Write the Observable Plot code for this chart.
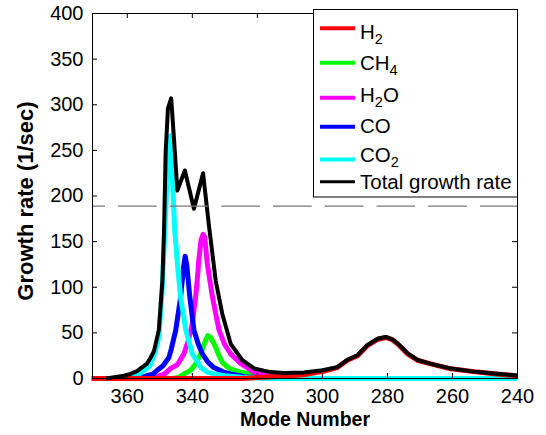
<!DOCTYPE html>
<html>
<head>
<meta charset="utf-8">
<script src="https://cdn.jsdelivr.net/npm/d3@7"></script>
<script src="https://cdn.jsdelivr.net/npm/@observablehq/plot@0.6"></script>
<style>
  body { margin: 0; background: #fff; }
  #wrap { position: relative; width: 546px; height: 435px; background: #fff; }
</style>
</head>
<body>
<div id="wrap"></div>
<script>
// ---------------- data ----------------
const xTicks = [360, 340, 320, 300, 280, 260, 240];
const yTicks = [0, 50, 100, 150, 200, 250, 300, 350, 400];
const xDomain = [370.7, 240];
const yDomain = [0, 400];
const threshold = 189;

const legendLabels = ["H_2", "CH_4", "H_2O", "CO", "CO_2", "Total growth rate"];
const xLabel = "Mode Number";
const yLabel = "Growth rate (1/sec)";

const h2Mode = [371, 325, 320, 315, 310, 305, 302, 299.5, 295.4, 292.3, 289.2, 286.2, 283, 280.5, 278.5, 276.9, 273.8, 270.8, 266.7, 260.5, 252.3, 245, 240];
const h2Rate = [0, 0, 1, 2, 3, 4.5, 6.5, 8, 12, 20, 25, 36, 43, 45, 42.5, 38, 27, 20, 16, 10.6, 7, 4.5, 3];

const ch4Mode = [346, 344, 342.6, 340.5, 339, 337.8, 336.9, 335.9, 335.2, 334.4, 333.6, 332.8, 331.8, 330.8, 329, 327.2, 325, 322.1, 318, 313, 308];
const ch4Rate = [0, 1.5, 5, 9, 16, 24, 32, 42, 47, 45, 40, 34, 25, 18, 12, 9, 7, 5, 2.5, 1, 0];

const h2oMode = [354, 350.8, 348.5, 346.7, 344.6, 342.6, 341.2, 340, 339, 338.5, 338, 337.3, 336.7, 336.2, 335.4, 333.8, 331.8, 330, 328.2, 325, 323.1, 321, 318, 314, 310, 305];
const h2oRate = [0, 2, 5, 11, 15, 27, 42, 60, 89, 107, 130, 152, 158, 155, 126, 89, 53, 37, 27, 16, 12, 7, 3.5, 1.5, 0.5, 0];

const coMode = [360, 354.9, 352, 350.8, 349, 347.2, 346.5, 345.1, 343.6, 342.7, 342.2, 341.7, 340.8, 339.5, 338.2, 336.9, 335.2, 333.4, 330.3, 328.2, 324, 320, 315, 310];
const coRate = [0, 2, 5, 9, 14, 23, 32, 53, 89, 122, 134, 124, 90, 53, 38, 27, 18, 12, 7, 5, 2, 1, 0.3, 0];

const co2Mode = [362, 358, 355.9, 353, 351.5, 350.3, 349.3, 348.3, 347.4, 346.7, 345.4, 344.6, 343.6, 342, 340, 338, 337.4, 335.4, 333.4, 330, 325, 320, 316, 240];
const co2Rate = [0, 2, 6, 14, 28, 45, 95, 175, 245, 266, 162, 126, 89, 53, 27, 16, 12, 7, 5, 3, 1.5, 0.5, 0, 0];

const totalMode = [366.5, 364, 361, 359, 357, 355.9, 354, 352.8, 351.8, 350.3, 349.2, 348.7, 348.2, 347.5, 346.5, 345.7, 344.6, 342.3, 339.5, 336.7, 334.9, 332.8, 330.8, 328.2, 324.6, 321, 318, 315.9, 311.8, 305.7, 300, 295.4, 292.3, 289.2, 286.2, 283, 280.5, 278.5, 276.9, 273.8, 270.8, 266.7, 260.5, 252.3, 241, 240];
const totalRate = [0, 1.5, 3, 5, 8, 11, 16, 23, 30, 53, 107, 162, 248, 296, 307, 266, 206, 228, 186, 225, 168, 107, 71, 38, 20, 11, 8.5, 7, 6, 6.5, 9, 12.5, 20.5, 25.5, 36.5, 43.5, 45.5, 43, 38.5, 27.5, 20.5, 16, 11, 7, 3.5, 3];

// ---------------- build ----------------
const rows = (modes, rates) => modes.map((m, i) => ({mode: m, rate: rates[i]}));
const colors = ["#ff0000", "#00ff00", "#ff00ff", "#0000ff", "#00ffff", "#000000"];
const FONT = "'Liberation Sans', Arial, Helvetica, sans-serif";

const W = 546, H = 435;
const mL = 92, mR = 29, mT = 13, mB = 57;
const innerW = W - mL - mR;
const innerH = H - mT - mB;
const tickLen = 5;

const lineOpts = (color, w) => ({x: "mode", y: "rate", stroke: color, strokeWidth: w, strokeLinejoin: "round", strokeLinecap: "butt"});

const chart = Plot.plot({
  width: W, height: H,
  marginLeft: mL, marginRight: mR, marginTop: mT, marginBottom: mB,
  style: {fontFamily: FONT, fontSize: "20px", color: "black", background: "white"},
  x: {domain: xDomain, ticks: xTicks},
  y: {domain: yDomain, ticks: yTicks},
  marks: [
    Plot.line(rows(ch4Mode, ch4Rate), lineOpts(colors[1], 5)),
    Plot.line(rows(h2oMode, h2oRate), lineOpts(colors[2], 5)),
    Plot.line(rows(coMode, coRate), lineOpts(colors[3], 5)),
    Plot.line(rows(co2Mode, co2Rate), lineOpts(colors[4], 5)),
    Plot.line(rows(h2Mode, h2Rate), lineOpts(colors[0], 5)),
    Plot.line(rows(totalMode, totalRate), lineOpts(colors[5], 4)),
    Plot.ruleY([threshold], {stroke: "#777", strokeWidth: 1.3, strokeDasharray: "38.7,13", strokeDashoffset: 25.7}),
    Plot.frame({stroke: "black", strokeWidth: 1}),
    Plot.tickX(xTicks, {x: d => d, insetTop: innerH - tickLen, stroke: "black"}),
    Plot.tickX(xTicks, {x: d => d, insetBottom: innerH - tickLen, stroke: "black"}),
    Plot.tickY(yTicks, {y: d => d, insetRight: innerW - tickLen, stroke: "black"}),
    Plot.tickY(yTicks, {y: d => d, insetLeft: innerW - tickLen, stroke: "black"}),
    Plot.axisX(xTicks, {tickSize: 0, tickPadding: 10, fontSize: 20, label: null}),
    Plot.axisY(yTicks, {tickSize: 0, tickPadding: 9, fontSize: 20, label: null}),
    Plot.text([xLabel], {frameAnchor: "bottom", dy: 41, lineAnchor: "middle", textAnchor: "middle", fontWeight: "bold", fontSize: 19.5, fill: "black"}),
    Plot.text([yLabel], {frameAnchor: "left", dx: -67, dy: 5, rotate: -90, lineAnchor: "middle", textAnchor: "middle", fontWeight: "bold", fontSize: 22, fill: "black"})
  ]
});

const wrap = document.getElementById("wrap");
wrap.appendChild(chart);

// ---------------- legend overlay ----------------
const leg = d3.create("svg")
  .attr("width", W).attr("height", H)
  .style("position", "absolute").style("left", "0px").style("top", "0px")
  .style("font-family", FONT);

leg.append("rect")
  .attr("x", 313.5).attr("y", 9.5).attr("width", 204).attr("height", 187.5)
  .attr("fill", "white").attr("stroke", "black").attr("stroke-width", 1);

const lineY = [28.3, 62.7, 97.7, 126.7, 159.5, 181.7];
const baseY = [39, 70, 101.7, 133, 161.5, 188.5];
const subShift = 5;

legendLabels.forEach((lab, i) => {
  leg.append("line")
    .attr("x1", 320).attr("x2", 355).attr("y1", lineY[i]).attr("y2", lineY[i])
    .attr("stroke", colors[i]).attr("stroke-width", i === 5 ? 3 : 4);
  const t = leg.append("text").attr("x", 360).attr("y", baseY[i])
    .attr("font-size", 20.5).attr("fill", "black");
  let shift = 0;
  for (let k = 0; k < lab.length; k++) {
    if (lab[k] === "_") {
      const ch = lab[k + 1];
      t.append("tspan").attr("font-size", 14.5).attr("dy", subShift - shift).text(ch);
      shift = subShift;
      k++;
    } else {
      let j = k;
      while (j < lab.length && lab[j] !== "_") j++;
      t.append("tspan").attr("dy", -shift).text(lab.slice(k, j));
      shift = 0;
      k = j - 1;
    }
  }
});

wrap.appendChild(leg.node());
</script>
</body>
</html>
